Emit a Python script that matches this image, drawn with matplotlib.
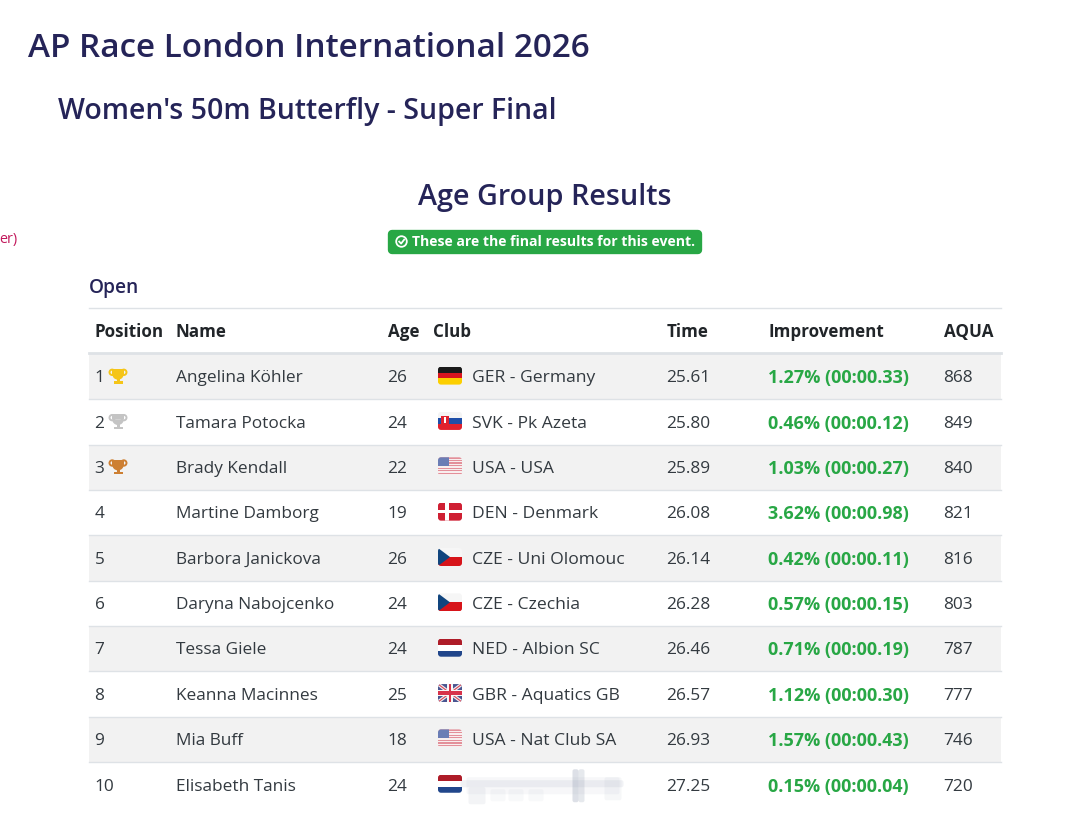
import matplotlib
matplotlib.use("Agg")
import matplotlib.pyplot as plt
from matplotlib.patches import FancyBboxPatch, Rectangle, Circle, Polygon, Wedge

plt.rcParams['font.family'] = ['Open Sans', 'Noto Sans', 'DejaVu Sans']

W, H = 1081, 825
positions = [1, 2, 3, 4, 5, 6, 7, 8, 9, 10]
names = ["Angelina Köhler", "Tamara Potocka", "Brady Kendall", "Martine Damborg", "Barbora Janickova",
         "Daryna Nabojcenko", "Tessa Giele", "Keanna Macinnes", "Mia Buff", "Elisabeth Tanis"]
ages = [26, 24, 22, 19, 26, 24, 24, 25, 18, 24]
flags = ["GER", "SVK", "USA", "DEN", "CZE", "CZE", "NED", "GBR", "USA", "NED"]
clubs = ["GER - Germany", "SVK - Pk Azeta", "USA - USA", "DEN - Denmark", "CZE - Uni Olomouc",
         "CZE - Czechia", "NED - Albion SC", "GBR - Aquatics GB", "USA - Nat Club SA", ""]
times = ["25.61", "25.80", "25.89", "26.08", "26.14", "26.28", "26.46", "26.57", "26.93", "27.25"]
improvements = ["1.27% (00:00.33)", "0.46% (00:00.12)", "1.03% (00:00.27)", "3.62% (00:00.98)",
                "0.42% (00:00.11)", "0.57% (00:00.15)", "0.71% (00:00.19)", "1.12% (00:00.30)",
                "1.57% (00:00.43)", "0.15% (00:00.04)"]
aqua = [868, 849, 840, 821, 816, 803, 787, 777, 746, 720]
headers = ["Position", "Name", "Age", "Club", "Time", "Improvement", "AQUA"]
header_x = [94.5, 175.5, 388, 433.5, 666.5, 768.5, 943.5]
trophy_colors = {1: "#f5c518", 2: "#c4c4c4", 3: "#cd7f32"}

NAVY = "#252458"
TXT = "#333a40"
GREEN = "#28a745"
LEFT, RIGHT = 89, 1001
ROW0, ROWH = 376.6, 45.35
DY = 1.8

fig = plt.figure(figsize=(W / 100, H / 100), dpi=100, facecolor="white")
ax = fig.add_axes([0, 0, 1, 1])
ax.set_xlim(0, W)
ax.set_ylim(H, 0)
ax.axis("off")

ax.text(27.5, 48.5, "AP Race London International 2026", fontsize=23.95, color=NAVY, va="center", weight=600)
ax.text(58.5, 111, "Women's 50m Butterfly - Super Final", fontsize=20.5, color=NAVY, va="center", weight=600)
ax.text(545, 197, "Age Group Results", fontsize=20.7, color=NAVY, va="center", ha="center", weight=600)
ax.text(-1, 240, "er)", fontsize=10.4, color="#c2185b", va="center")

# badge
ax.add_patch(FancyBboxPatch((392, 234), 306, 16, boxstyle="round,pad=0,rounding_size=0", mutation_aspect=1,
                            fc=GREEN, ec=GREEN, lw=6, joinstyle="round"))
ax.add_patch(Circle((401.5, 241.5), 6.2, fc="white", ec="none"))
ax.add_patch(Circle((401.5, 241.5), 4.4, fc=GREEN, ec="none"))
ax.plot([399.2, 401.1, 404.2], [241.6, 243.6, 239.6], color="white", lw=1.3)
ax.text(412.5, 242.5, "These are the final results for this event.", fontsize=10.1, color="white",
        weight="bold", va="center")

ax.text(89, 288.5, "Open", fontsize=13.8, color=NAVY, va="center", weight=600)

# table rules / stripes
ax.plot([LEFT, RIGHT], [307.5, 307.5], color="#dee2e6", lw=1)
for x, h in zip(header_x, headers):
    ax.text(x, 332, h, fontsize=12.25, color="#212529", weight="bold", va="center")
ax.plot([LEFT, RIGHT], [352.5, 352.5], color="#dee2e6", lw=2)


def flag(kind, cx, cy):
    w, h = 24, 18
    x0, y0 = cx - w / 2, cy - h / 2
    clip = FancyBboxPatch((x0 + 3, y0 + 3), w - 6, h - 6, boxstyle="round,pad=3,rounding_size=3",
                          fc="none", ec="none", transform=ax.transData)
    ax.add_patch(clip)
    arts = []

    def r(fx, fy, fw, fh, c):
        arts.append(ax.add_patch(Rectangle((x0 + fx * w, y0 + fy * h), fw * w, fh * h, fc=c, ec="none")))

    def poly(pts, c):
        arts.append(ax.add_patch(Polygon([(x0 + a * w, y0 + b * h) for a, b in pts], fc=c, ec="none")))

    if kind == "GER":
        r(0, 0, 1, .34, "#1a1a1a"); r(0, .33, 1, .34, "#d8151f"); r(0, .66, 1, .34, "#fccf00")
    elif kind == "SVK":
        r(0, 0, 1, .34, "#f4f4f4"); r(0, .33, 1, .34, "#1f4fa8"); r(0, .66, 1, .34, "#e0222e")
        r(.14, .2, .3, .52, "#e0222e"); r(.26, .3, .06, .3, "white")
    elif kind == "USA":
        for i in range(7):
            r(0, i / 7, 1, 1 / 14, "#e3909a"); r(0, i / 7 + 1 / 14, 1, 1 / 14, "#f8eeee")
        r(0, 0, .45, .5, "#6a7db5")
    elif kind == "DEN":
        r(0, 0, 1, 1, "#cf1f33"); r(.3, 0, .14, 1, "white"); r(0, .42, 1, .16, "white")
    elif kind == "CZE":
        r(0, 0, 1, .5, "#f6f6f6"); r(0, .5, 1, .5, "#d7141a"); poly([(0, 0), (.5, .5), (0, 1)], "#11457e")
    elif kind == "NED":
        r(0, 0, 1, .34, "#ae1c28"); r(0, .33, 1, .34, "white"); r(0, .66, 1, .34, "#21468b")
    elif kind == "GBR":
        r(0, 0, 1, 1, "#4a5590")
        for a, b in [((0, 0), (1, 1)), ((0, 1), (1, 0))]:
            d = .12
            poly([(a[0], a[1] - d), (a[0], a[1] + d), (b[0], b[1] + d), (b[0], b[1] - d)], "#f2f2f2")
            d = .04
            poly([(a[0], a[1] - d), (a[0], a[1] + d), (b[0], b[1] + d), (b[0], b[1] - d)], "#d8475a")
        r(.38, 0, .24, 1, "#f7f7f7"); r(0, .33, 1, .34, "#f7f7f7")
        r(.44, 0, .12, 1, "#d8324a"); r(0, .41, 1, .18, "#d8324a")
    for a in arts:
        a.set_clip_path(clip)


def trophy(cx, cy, c):
    ax.add_patch(Wedge((cx, cy - 2.2), 5.8, 0, 180, fc=c, ec="none"))
    ax.add_patch(Rectangle((cx - 5.8, cy - 7.2), 11.6, 5.2, fc=c, ec="none"))
    ax.add_patch(Circle((cx - 5.8, cy - 3.8), 2.7, fc="none", ec=c, lw=1.4))
    ax.add_patch(Circle((cx + 5.8, cy - 3.8), 2.7, fc="none", ec=c, lw=1.4))
    ax.add_patch(Rectangle((cx - 1.5, cy + 2.5), 3, 3.5, fc=c, ec="none"))
    ax.add_patch(Rectangle((cx - 4.5, cy + 5.2), 9, 2.4, fc=c, ec="none"))


for i in range(len(positions)):
    cy = ROW0 + i * ROWH
    ty = cy + DY
    top, bot = cy - ROWH / 2, cy + ROWH / 2
    if i % 2 == 0:
        ax.add_patch(Rectangle((LEFT, top), RIGHT - LEFT, ROWH, fc="#f2f2f2", ec="none", zorder=0))
    if i < len(positions) - 1:
        ax.plot([LEFT, RIGHT], [bot, bot], color="#dee2e6", lw=1, zorder=1)
    ax.text(94.5, ty, str(positions[i]), fontsize=12.4, color=TXT, va="center")
    if positions[i] in trophy_colors:
        trophy(118, cy - .5, trophy_colors[positions[i]])
    ax.text(175.5, ty, names[i], fontsize=12.4, color=TXT, va="center")
    ax.text(387.5, ty, str(ages[i]), fontsize=12.4, color=TXT, va="center")
    flag(flags[i], 450, cy - 1)
    if clubs[i]:
        ax.text(472, ty, clubs[i], fontsize=12.6, color=TXT, va="center")
    ax.text(666.5, ty, times[i], fontsize=12.4, color=TXT, va="center")
    ax.text(768.5, ty, improvements[i], fontsize=13.0, color=GREEN, weight="bold", va="center")
    ax.text(943.5, ty, str(aqua[i]), fontsize=12.4, color=TXT, va="center")

# blurred-out smudge over last club cell
cy = ROW0 + 9 * ROWH
for dx, dw, dy, dh, a in [(462, 160, -3, 4, .12), (468, 150, -6, 14, .07), (470, 14, 4, 14, .10),
                          (492, 12, 6, 9, .06), (510, 12, 6, 9, .06), (530, 12, 6, 9, .06),
                          (574, 3, -14, 30, .30), (580, 3, -14, 30, .22), (606, 14, -6, 20, .08)]:
    ax.add_patch(FancyBboxPatch((dx, cy + dy), dw, dh, boxstyle="round,pad=1.5,rounding_size=2",
                                fc="#8f9bb0", ec="none", alpha=a, zorder=5))

fig.savefig("out.png", dpi=100, facecolor="white")
